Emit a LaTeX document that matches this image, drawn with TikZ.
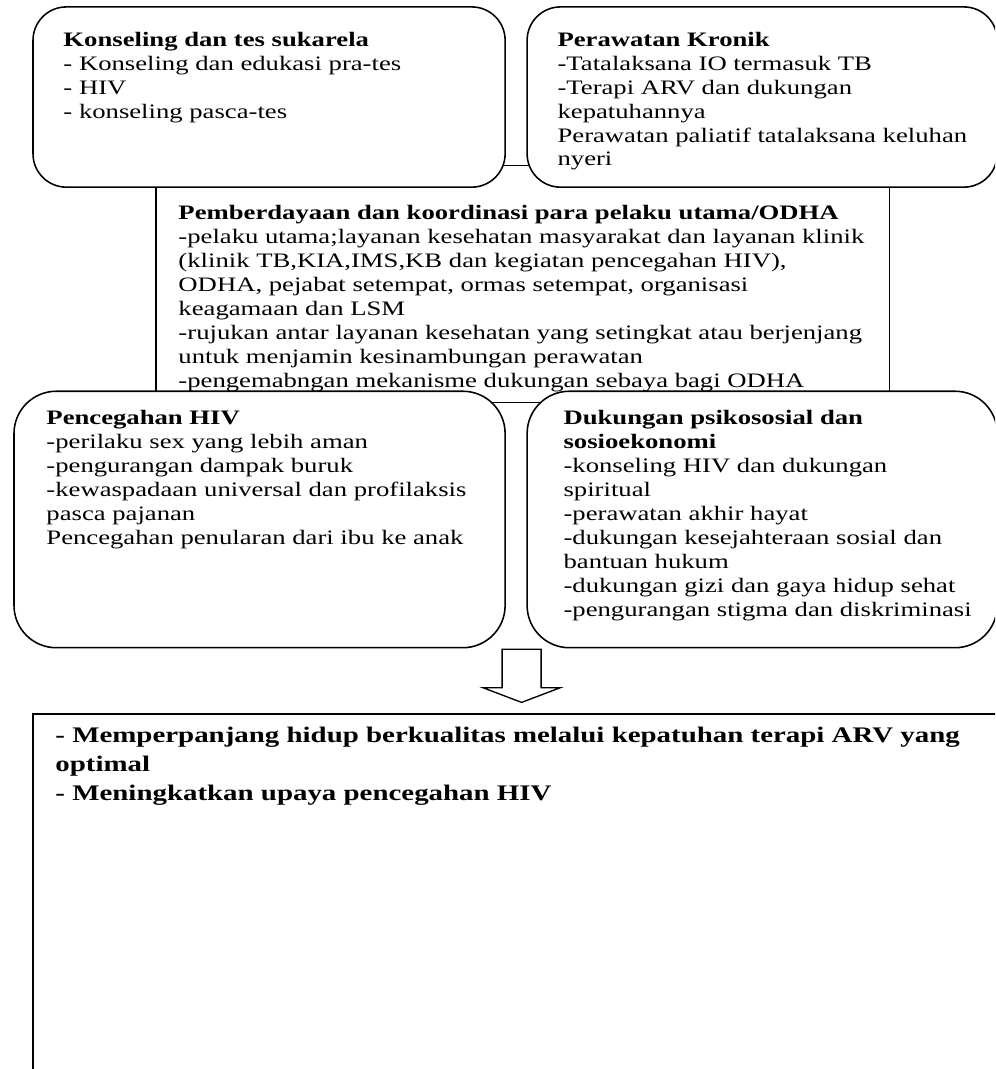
\documentclass[tikz,border=0pt]{standalone}
\usepackage{fontspec}
\setmainfont{Liberation Serif}

\tikzset{
  roundbox/.style={draw=black,fill=white,line width=0.7pt},
  midbox/.style={draw=black,line width=0.5pt},
  endbox/.style={draw=black,line width=1.1pt},
  boxtext/.style={anchor=north west,inner sep=0pt,align=left,transform shape,font=\fontsize{12}{14}\selectfont},
  endtext/.style={anchor=north west,inner sep=0pt,align=left,transform shape,font=\fontsize{13}{17}\selectfont\bfseries},
  blockarrow/.style={draw=black,fill=white,line width=0.6pt,line join=miter}
}

\begin{document}
\begin{tikzpicture}[x=0.45pt,y=-0.45pt,yscale=0.77]
 \useasboundingbox (0,0) rectangle (995,1388);
 \clip (0,0) rectangle (995,1388);
 % middle box lies behind the rounded ones
 \draw[midbox] (156,215) rectangle (889,523);
 \draw[roundbox,rounded corners=15pt] (33,9) rectangle (505,243);
 \draw[roundbox,rounded corners=15pt] (527,9) rectangle (997,243);
 \draw[roundbox,rounded corners=19pt] (14,508) rectangle (505,841);
 \draw[roundbox,rounded corners=19pt] (527,508) rectangle (997,841);
 \draw[endbox] (33,927) rectangle (1010,1400);
 \draw[blockarrow] (502,843) -- (541,843) -- (541,893) -- (560,893) -- (521.5,912) -- (483,893) -- (502,893) -- cycle;

 \node[boxtext] (vct) at (63,41) {\textbf{Konseling dan tes sukarela}\\
   - Konseling dan edukasi pra-tes\\
   - HIV\\
   - konseling pasca-tes};
 \node[boxtext] (kronik) at (557,41) {\textbf{Perawatan Kronik}\\
   -Tatalaksana IO termasuk TB\\
   -Terapi ARV dan dukungan\\
   kepatuhannya\\
   Perawatan paliatif tatalaksana keluhan\\
   nyeri};
 \node[boxtext] (odha) at (178,266) {\textbf{Pemberdayaan dan koordinasi para pelaku utama/ODHA}\\
   -pelaku utama;layanan kesehatan masyarakat dan layanan klinik\\
   (klinik TB,KIA,IMS,KB dan kegiatan pencegahan HIV),\\
   ODHA, pejabat setempat, ormas setempat, organisasi\\
   keagamaan dan LSM\\
   -rujukan antar layanan kesehatan yang setingkat atau berjenjang\\
   untuk menjamin kesinambungan perawatan\\
   -pengemabngan mekanisme dukungan sebaya bagi ODHA};
 \node[boxtext] (cegah) at (46,532) {\textbf{Pencegahan HIV}\\
   -perilaku sex yang lebih aman\\
   -pengurangan dampak buruk\\
   -kewaspadaan universal dan profilaksis\\
   pasca pajanan\\
   Pencegahan penularan dari ibu ke anak};
 \node[boxtext] (psiko) at (563,532) {\textbf{Dukungan psikososial dan}\\
   \textbf{sosioekonomi}\\
   -konseling HIV dan dukungan\\
   spiritual\\
   -perawatan akhir hayat\\
   -dukungan kesejahteraan sosial dan\\
   bantuan hukum\\
   -dukungan gizi dan gaya hidup sehat\\
   -pengurangan stigma dan diskriminasi};
 \node[endtext] (hasil) at (55,943) {- Memperpanjang hidup berkualitas melalui kepatuhan terapi ARV yang\\
   optimal\\
   - Meningkatkan upaya pencegahan HIV};
\end{tikzpicture}
\end{document}
